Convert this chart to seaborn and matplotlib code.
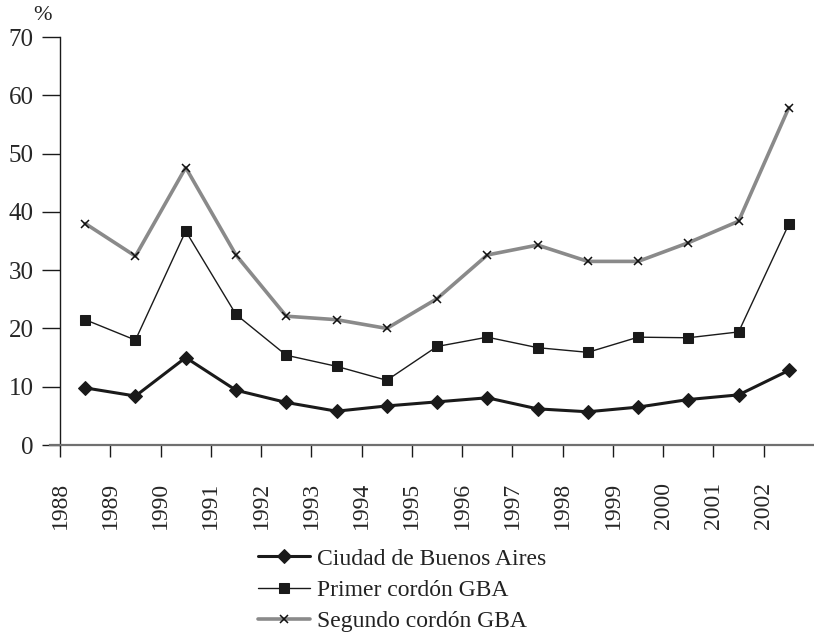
import numpy as np
import pandas as pd
import matplotlib
matplotlib.use("Agg")
import matplotlib.pyplot as plt
import seaborn as sns

# ------------------------------------
# Data
# ------------------------------------
years = [1988, 1989, 1990, 1991, 1992, 1993, 1994, 1995,
         1996, 1997, 1998, 1999, 2000, 2001, 2002]
ciudad = [9.8, 8.4, 15.0, 9.4, 7.3, 5.8, 6.7, 7.4,
          8.1, 6.2, 5.7, 6.5, 7.8, 8.6, 12.8]
primer = [21.5, 18.0, 36.7, 22.4, 15.4, 13.5, 11.1, 16.9,
          18.5, 16.7, 15.9, 18.5, 18.4, 19.4, 37.9]
segundo = [38.0, 32.4, 47.6, 32.6, 22.1, 21.5, 20.0, 25.1,
           32.6, 34.3, 31.5, 31.5, 34.7, 38.4, 57.9]
series_names = ["Ciudad de Buenos Aires", "Primer cordón GBA", "Segundo cordón GBA"]
y_ticks = [0, 10, 20, 30, 40, 50, 60, 70]

# ------------------------------------
# Style
# ------------------------------------
sns.set_style("ticks")
plt.rcParams['font.family'] = ['Liberation Serif', 'DejaVu Serif']
plt.rcParams['text.color'] = '#222222'

W, H = 814, 635
fig = plt.figure(figsize=(W / 100, H / 100), dpi=100)
ax = fig.add_axes([50 / W, (H - 445) / H, (W - 50) / W, (445 - 37) / H])

# each year's point sits in the middle of its interval
pos = np.arange(len(years)) + 0.5
df = pd.DataFrame({"pos": pos, "ciudad": ciudad, "primer": primer, "segundo": segundo})

sns.lineplot(data=df, x="pos", y="segundo", ax=ax, color="#8a8a8a", lw=2.6,
             marker="x", ms=5.5, mec="#111111", mew=1.1, label=series_names[2], zorder=2)
sns.lineplot(data=df, x="pos", y="primer", ax=ax, color="#1a1a1a", lw=1.0,
             marker="s", ms=7, mec="#1a1a1a", label=series_names[1], zorder=3)
sns.lineplot(data=df, x="pos", y="ciudad", ax=ax, color="#1a1a1a", lw=2.2,
             marker="D", ms=7.5, mec="#1a1a1a", label=series_names[0], zorder=4)

# ------------------------------------
# Axes
# ------------------------------------
ax.set_xlim(-0.2, 15)
ax.set_ylim(0, 70)
ax.spines['left'].set_position(('data', 0))
ax.spines['left'].set_color('#1a1a1a')
ax.spines['left'].set_linewidth(1.0)
ax.spines['bottom'].set_color('#707070')
ax.spines['bottom'].set_linewidth(1.6)
sns.despine(ax=ax, top=True, right=True)

ax.set_xticks(np.arange(len(years)))
ax.set_xticklabels([str(y) for y in years], rotation=90, fontsize=17)
ax.set_yticks(y_ticks)
ax.set_yticklabels([str(v) for v in y_ticks], fontsize=18)
ax.tick_params(axis='x', length=8.5, width=1.0, color='#1a1a1a', pad=18)
ax.tick_params(axis='y', length=13, width=1.0, color='#1a1a1a', pad=6)
ax.set_xlabel("")
ax.set_ylabel("")

fig.text(42 / W, 1 - 15 / H, "%", fontsize=16, ha='center', va='center')

# ------------------------------------
# Legend below the plot
# ------------------------------------
handles, labels = ax.get_legend_handles_labels()
ax.get_legend().remove()
order = [labels.index(n) for n in series_names]
fig.legend([handles[i] for i in order], [labels[i] for i in order],
           loc='upper left', bbox_to_anchor=(258 / W, 1 - 548 / H),
           bbox_transform=fig.transFigure, frameon=False, fontsize=17,
           handlelength=2.2, handletextpad=0.3, labelspacing=0.42,
           borderpad=0, borderaxespad=0)

fig.savefig("out.png", dpi=100)
